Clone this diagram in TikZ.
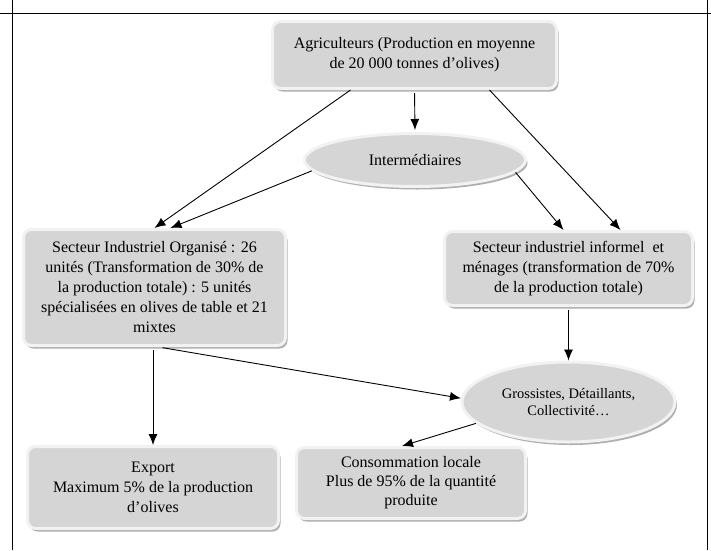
\documentclass[tikz,border=0pt]{standalone}
\usepackage{fontspec}
\setmainfont{Liberation Serif}
\usetikzlibrary{shapes.geometric,shadows,arrows.meta}

\begin{document}
\begin{tikzpicture}[x=1pt,y=-1pt,
    box/.style={rectangle,rounded corners=8pt,fill=gray!33,draw=gray!10,line width=3pt,
        align=center,inner sep=2pt,font=\fontsize{16}{20}\selectfont,
        drop shadow={shadow xshift=2pt,shadow yshift=-3pt,opacity=0.45,fill=black!70}},
    oval/.style={ellipse,fill=gray!33,draw=gray!10,line width=3pt,
        align=center,inner sep=0pt,font=\fontsize{16}{20}\selectfont,
        drop shadow={shadow xshift=2pt,shadow yshift=-3pt,opacity=0.45,fill=black!70}},
    fleche/.style={-{Latex[length=11pt,width=9pt]},line width=0.9pt}]
            \useasboundingbox (0,0) rectangle (711,550);
            \draw[line width=0.9pt] (0,13) -- (711,13);
            \draw[line width=0.9pt] (12,0) -- (12,550);
            \draw[line width=0.9pt] (707,0) -- (707,550);
            \node[box,minimum width=284pt,minimum height=67pt] (agri) at (414.5,55)
                {Agriculteurs (Production en moyenne\\de 20 000 tonnes d’olives)};
            \node[oval,minimum width=221pt,minimum height=53pt] (inter) at (415,160) {Intermédiaires};
            \node[box,minimum width=262pt,minimum height=116pt] (org) at (154.5,287.5)
                {Secteur Industriel Organisé : 26\\unités (Transformation de 30\% de\\la production totale) : 5 unités\\spécialisées en olives de table et 21\\mixtes};
            \node[box,minimum width=248pt,minimum height=74pt] (inf) at (568.5,268.5)
                {Secteur industriel informel\ \ et\\ménages (transformation de 70\%\\de la production totale)};
            \node[oval,minimum width=213pt,minimum height=80pt,font=\fontsize{14.5}{17}\selectfont] (gros) at (568.5,402)
                {Grossistes, Détaillants,\\Collectivité…};
            \node[box,minimum width=251pt,minimum height=82pt] (export) at (153,487.5)
                {Export\\Maximum 5\% de la production\\d’olives};
            \node[box,minimum width=229pt,minimum height=71pt,font=\fontsize{16}{19}\selectfont] (conso) at (411,483)
                {Consommation locale\\Plus de 95\% de la quantité\\produite};
            \draw[fleche] ([xshift=-64pt]agri.south) -- (org.north);
            \draw[fleche,shorten <=3pt,shorten >=2pt] (agri.south) -- (inter.north);
            \draw[fleche] ([xshift=75pt]agri.south) -- ([xshift=52pt]inf.north);
            \draw[fleche] (inter.186) -- ([xshift=16pt]org.north);
            \draw[fleche] (inter.353) -- ([xshift=-5pt]inf.north);
            \draw[fleche,shorten <=3pt] (inf.south) -- (gros.north);
            \draw[fleche,shorten <=3pt] (export.north |- org.south) -- (export.north);
            \draw[fleche,shorten <=4pt] ([xshift=4pt]org.south) -- (gros.178);
            \draw[fleche] (gros.193) -- ([xshift=-9pt]conso.north);
        \end{tikzpicture}
\end{document}
